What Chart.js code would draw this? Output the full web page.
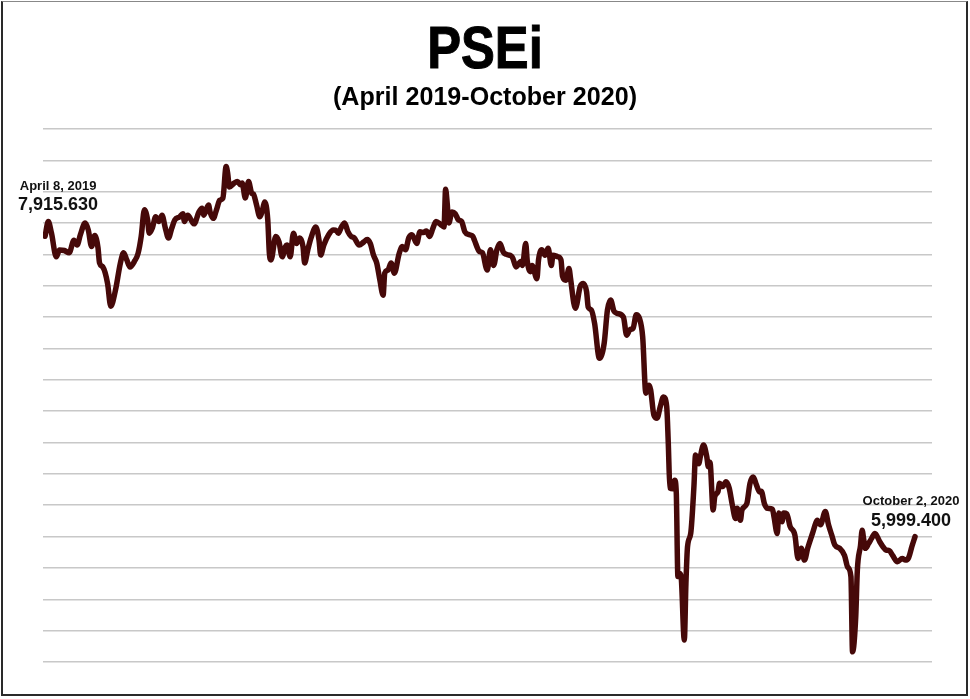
<!DOCTYPE html>
<html>
<head>
<meta charset="utf-8">
<script src="https://cdn.jsdelivr.net/npm/chart.js@4.4.1/dist/chart.umd.min.js"></script>
<style>
  body { margin: 0; background: #fff; }
  #quadro { position: relative; width: 970px; height: 699px; overflow: hidden; }
  #moldura {
    position: absolute; left: 1px; top: 1px; width: 967px; height: 695px;
    box-sizing: border-box; border: 2px solid #2a2a2a; border-top: 1px solid #888;
    pointer-events: none;
  }
  .titulo {
    position: absolute; left: 0; width: 970px; text-align: center;
    font-family: "Liberation Sans", Arial, sans-serif; font-weight: bold; color: #000;
    white-space: nowrap;
  }
  #titulo { top: 19px; font-size: 59px; line-height: 58px; transform: scaleX(0.86); -webkit-text-stroke: 1px #000; }
  #subtitulo { top: 83px; font-size: 26px; line-height: 26px; transform: scaleX(0.965); }
</style>
</head>
<body>
<div id="quadro">
  <canvas id="psei"></canvas>
  <div class="titulo" id="titulo">PSEi</div>
  <div class="titulo" id="subtitulo">(April 2019-October 2020)</div>
  <div id="moldura"></div>
</div>
<script>
// ------------------------------
// DADOS (dias desde 8 de abril de 2019 e fechamento do indice)
// ------------------------------
const dias = [
  0, 2, 4, 7, 9, 12, 15, 18, 20, 22, 25, 27, 29, 31, 33, 34, 36, 39, 41, 44,
  47, 49, 51, 53, 56, 58, 60, 62, 64, 65, 67, 69, 71, 73, 75, 77, 79, 81, 84, 86,
  87, 89, 92, 93, 96, 98, 99, 102, 103, 105, 107, 109, 111, 113, 114, 115, 118, 120, 122, 123,
  125, 127, 129, 130, 132, 134, 136, 137, 139, 140, 141, 144, 146, 148, 150, 151, 153, 155, 157, 159,
  161, 162, 164, 166, 169, 171, 172, 174, 177, 180,
  182, 183, 185, 187, 189, 191, 193, 196, 199, 201, 203, 205, 207, 209, 211, 212, 214, 216, 218, 221,
  223, 225, 227, 229, 232, 234, 236, 238, 240, 242, 244, 247, 249, 250, 251, 252, 254, 256, 258, 260,
  262, 265, 267,
  268, 271, 273, 276, 278, 280, 282, 284, 286, 288, 291, 292, 294, 297, 298, 300, 301, 303, 304, 307,
  308, 310, 312, 314, 316, 317, 320, 322, 323, 325, 327, 328, 330, 331, 334, 336, 338, 339, 341, 343,
  346, 349, 351, 353, 355, 357,
  361, 363, 365, 367, 369, 371, 373, 375, 377, 378, 380, 382, 384, 386, 388, 389, 390, 392, 393, 394,
  395, 396, 397, 399, 400, 401, 403, 405, 406, 408, 409, 411, 413, 414, 415, 417, 418, 420, 421, 423,
  425, 427, 429, 431, 432, 434, 435, 438, 440, 442, 444, 446, 447, 449, 451,
  454, 455, 457, 458, 460, 461, 463, 465, 468, 470, 472, 474, 476, 479, 481, 482, 484, 487, 489, 491,
  493, 496, 499, 501, 503, 504, 506, 507, 509, 510, 511, 512, 514, 516, 518, 521, 523, 525, 527, 529,
  532, 535, 537, 539, 541, 543,
];

const valores = [
  7915.63, 8010, 7935, 7785, 7828, 7825, 7810, 7890, 7860, 7925, 8000, 7955, 7850, 7920, 7845, 7745, 7720, 7615, 7470, 7575,
  7745, 7810, 7765, 7720, 7760, 7805, 7915, 8085, 8020, 7935, 7970, 8040, 8010, 8050, 7970, 7905, 7965, 8020, 8040, 8060,
  8010, 8050, 8005, 7995, 8070, 8095, 8050, 8115, 8070, 8030, 8085, 8145, 8160, 8360, 8315, 8230, 8255, 8265, 8245, 8255,
  8160, 8265, 8190, 8185, 8115, 8040, 8095, 8135, 8020, 7805, 7765, 7915, 7880, 7785, 7850, 7860, 7785, 7935, 7870, 7905,
  7850, 7745, 7830, 7905, 7975, 7890, 7796, 7860, 7925, 7955,
  7950, 7935, 7975, 8000, 7945, 7915, 7905, 7860, 7880, 7895, 7870, 7795, 7745, 7635, 7540, 7680, 7700, 7745, 7680, 7805,
  7850, 7830, 7905, 7925, 7870, 7945, 7940, 7950, 7915, 7965, 8010, 7990, 7975, 8215, 8125, 8000, 8070, 8060, 8020, 8010,
  7945, 7925, 7915,
  7890, 7820, 7810, 7700, 7830, 7730, 7830, 7870, 7815, 7800, 7790, 7775, 7720, 7755, 7730, 7870, 7755, 7690, 7730, 7645,
  7765, 7830, 7795, 7840, 7730, 7795, 7785, 7765, 7660, 7635, 7710, 7645, 7490, 7456, 7595, 7615, 7562, 7465, 7445, 7360,
  7137, 7235, 7445, 7509, 7440, 7424,
  7400, 7285, 7320, 7328, 7415, 7392, 7275, 6915, 6965, 6935, 6775, 6755, 6830, 6890, 6830, 6595, 6310, 6305, 6360, 6275,
  5745, 5765, 5745, 5340, 5700, 5935, 6020, 6320, 6520, 6465, 6510, 6585, 6510, 6445, 6475, 6170, 6255, 6286, 6340, 6320,
  6350, 6310, 6200, 6115, 6180, 6105, 6170, 6210, 6340, 6380, 6330, 6285, 6290, 6210, 6180,
  6175, 6125, 6020, 6150, 6095, 6150, 6145, 6065, 6010, 5861, 5925, 5850, 5925, 6020, 6085, 6105, 6075, 6160, 6075, 6010,
  5945, 5925, 5880, 5805, 5745, 5265, 5490, 5785, 5945, 6040, 5980, 5925, 5955, 5990, 6020, 5967, 5935, 5914, 5910, 5880,
  5840, 5860, 5850, 5865, 5935, 5999.40,
];

// escala vertical (linhas de grade a cada 200 pontos)
const yMin = 5200;
const yMax = 8600;
const yPasso = 200;

// rotulos das pontas
const rotuloInicio = ["April 8, 2019", "7,915.630"];
const rotuloFim = ["October 2, 2020", "5,999.400"];

// ------------------------------
// PLUGIN PARA ESCREVER OS ROTULOS NAS PONTAS DA LINHA
// ------------------------------
const rotulos = {
  id: "rotulos",
  afterDatasetsDraw(chart) {
    const pts = chart.getDatasetMeta(0).data;
    const ini = pts[0];
    const fim = pts[pts.length - 1];
    const ctx = chart.ctx;
    ctx.save();
    ctx.fillStyle = "#111";
    ctx.textAlign = "center";
    ctx.textBaseline = "middle";

    ctx.font = "bold 13px 'Liberation Sans', Arial, sans-serif";
    ctx.fillText(rotuloInicio[0], ini.x + 13, ini.y - 50);
    ctx.fillText(rotuloFim[0], fim.x - 4, fim.y - 35);

    ctx.font = "bold 18px 'Liberation Sans', Arial, sans-serif";
    ctx.fillText(rotuloInicio[1], ini.x + 13, ini.y - 31);
    ctx.fillText(rotuloFim[1], fim.x - 4, fim.y - 16);
    ctx.restore();
  },
};

// ------------------------------
// GRAFICO
// ------------------------------
const pontos = dias.map((d, i) => ({ x: d, y: valores[i] }));

new Chart(document.getElementById("psei"), {
  type: "line",
  data: {
    datasets: [
      {
        label: "PSEi",
        data: pontos,
        borderColor: "#460909",
        borderWidth: 5.5,
        pointRadius: 0,
        cubicInterpolationMode: "monotone",
        borderJoinStyle: "round",
        borderCapStyle: "round",
        fill: false,
      },
    ],
  },
  options: {
    responsive: true,
    maintainAspectRatio: false,
    animation: false,
    layout: { padding: { left: 43, right: 38, top: 129, bottom: 37 } },
    plugins: { legend: { display: false }, tooltip: { enabled: false } },
    scales: {
      x: { type: "linear", min: -1.3, max: 553.6, display: false },
      y: {
        min: yMin,
        max: yMax,
        ticks: { stepSize: yPasso, display: false },
        grid: { color: "#c8c8c8", lineWidth: 1.5, drawTicks: false },
        border: { display: false },
      },
    },
  },
  plugins: [rotulos],
});
</script>
</body>
</html>
